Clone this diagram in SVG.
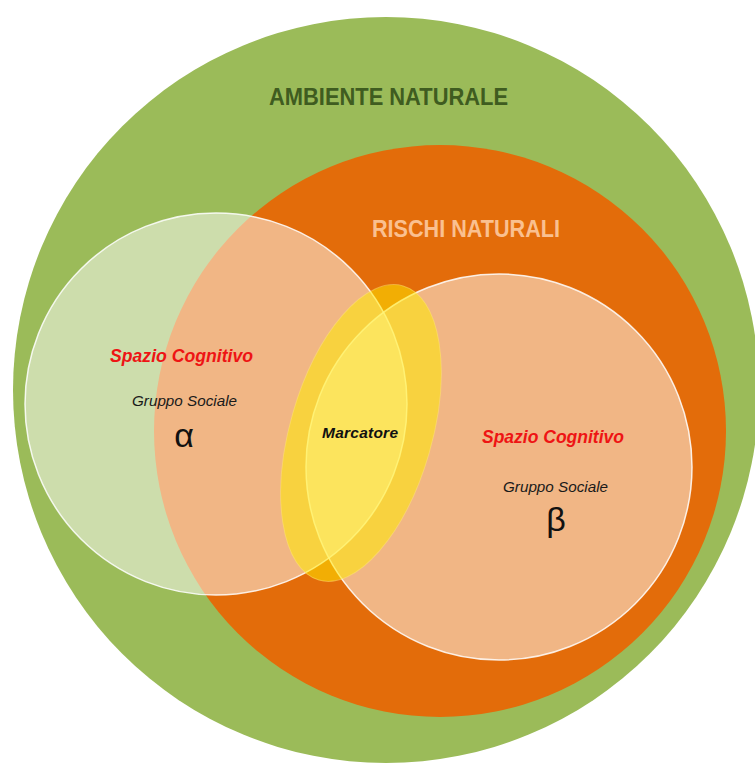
<svg xmlns="http://www.w3.org/2000/svg" width="755" height="764" viewBox="0 0 755 764">
<style>
.title{font-family:"Liberation Sans",Arial,sans-serif;font-weight:bold;text-anchor:middle}
.sc{font-family:"Liberation Sans",Arial,sans-serif;font-weight:bold;font-style:italic;font-size:18px;fill:#ee1414;text-anchor:middle}
.gs{font-family:"Liberation Sans",Arial,sans-serif;font-style:italic;font-size:15.5px;fill:#1a1a1a;text-anchor:middle}
.greek{font-family:"Liberation Sans",Arial,sans-serif;font-size:34px;fill:#111;text-anchor:middle}
.social{fill:#ffffff;fill-opacity:0.5;stroke:#ffffff;stroke-opacity:0.85;stroke-width:1.5}
</style>
<rect width="755" height="764" fill="#ffffff"/>
<g id="ambiente-naturale">
<circle cx="386" cy="390" r="373" fill="#9bbb59"/>
<text class="title" x="388.5" y="105" font-size="23" fill="#3f5c20" textLength="239" lengthAdjust="spacingAndGlyphs">AMBIENTE NATURALE</text>
</g>
<g id="rischi-naturali">
<circle cx="440" cy="431" r="286" fill="#e36c0a"/>
<text class="title" x="466" y="237" font-size="23" fill="#fac090" textLength="188" lengthAdjust="spacingAndGlyphs">RISCHI NATURALI</text>
</g>
<g id="spazio-alpha">
<circle class="social" cx="216" cy="404" r="191"/>
<text class="sc" x="181.5" y="362" textLength="143" lengthAdjust="spacingAndGlyphs">Spazio Cognitivo</text>
<text class="gs" x="184.5" y="406" textLength="105" lengthAdjust="spacingAndGlyphs">Gruppo Sociale</text>
<text class="greek" x="184" y="447">α</text>
</g>
<g id="spazio-beta">
<circle class="social" cx="499" cy="467" r="193"/>
<text class="sc" x="553" y="443" textLength="142" lengthAdjust="spacingAndGlyphs">Spazio Cognitivo</text>
<text class="gs" x="555.5" y="492" textLength="105" lengthAdjust="spacingAndGlyphs">Gruppo Sociale</text>
<text class="greek" x="556" y="531">β</text>
</g>
<g id="marcatore">
<ellipse cx="361" cy="433" rx="71" ry="153" transform="rotate(16 361 433)" fill="#ffec00" fill-opacity="0.52" stroke="#ffe870" stroke-opacity="0.5" stroke-width="1"/>
<text x="360" y="438" font-family="'Liberation Sans',Arial,sans-serif" font-weight="bold" font-style="italic" font-size="15.5" fill="#111" text-anchor="middle" textLength="76">Marcatore</text>
</g>
<g id="connectors"/>
</svg>
